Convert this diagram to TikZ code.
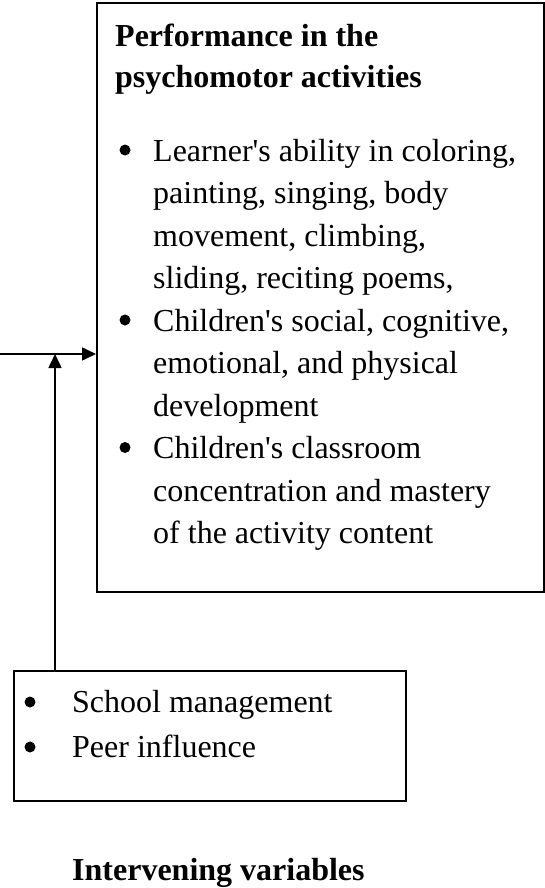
\documentclass[tikz,border=0pt]{standalone}
\usepackage{fontspec}
\setmainfont{Liberation Serif}[Ligatures=TeXOff]
\usetikzlibrary{arrows.meta}
\begin{document}
\begin{tikzpicture}[x=1pt,y=-1pt,
  box/.style={draw, line width=1.6pt, inner sep=0pt, anchor=north west},
  txt/.style={anchor=base west, inner sep=0pt, align=left,
              font=\fontsize{32}{42.5}\selectfont},
  ttl/.style={anchor=base west, inner sep=0pt, align=left,
              font=\fontsize{32}{41}\selectfont\bfseries},
  bul/.style={circle, fill, inner sep=0pt, minimum size=11pt},
  conn/.style={line width=1.6pt, -{Triangle[length=14pt,width=13pt]}}]
\useasboundingbox (0,0) rectangle (545,888);

% boxes
\node[box, minimum width=447pt, minimum height=589pt] (perf) at (96,2) {};
\node[box, minimum width=392pt, minimum height=130pt] (interv) at (13,670) {};

% top box text (base anchor = baseline of the last line)
\node[ttl] (title) at (115,88) {Performance in the\\psychomotor activities};
\node[bul] (b1) at (125,150) {};
\node[txt] (i1) at (153,288.5) {Learner's ability in coloring,\\painting, singing, body\\movement, climbing,\\sliding, reciting poems,};
\node[bul] (b2) at (125,320) {};
\node[txt] (i2) at (153,416) {Children's social, cognitive,\\emotional, and physical\\development};
\node[bul] (b3) at (125,447.5) {};
\node[txt] (i3) at (153,543.5) {Children's classroom\\concentration and mastery\\of the activity content};

% bottom box text
\node[bul] (b4) at (30,702) {};
\node[txt] (s1) at (72,712) {School management};
\node[bul] (b5) at (30,747) {};
\node[txt] (s2) at (72,757) {Peer influence};
\node[ttl] (ivlabel) at (72,880) {Intervening variables};

% connectors
\coordinate (hstart) at (0,354);
\coordinate (vtop) at (55,354);
\draw[conn] (hstart) -- (hstart -| perf.west);
\draw[conn] (interv.north -| vtop) -- (vtop);
\end{tikzpicture}
\end{document}
